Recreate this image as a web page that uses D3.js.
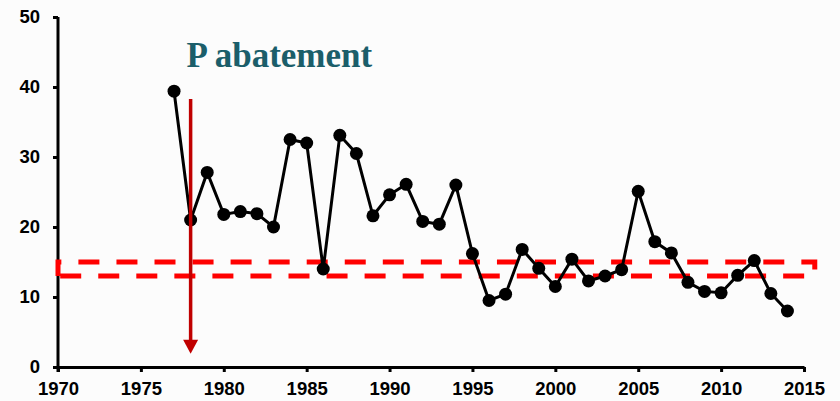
<!DOCTYPE html>
<html>
<head>
<meta charset="utf-8">
<script src="https://cdn.jsdelivr.net/npm/d3@7"></script>
<style>
  body { margin: 0; background: #fcfcfc; }
  svg { display: block; }
  .tick text { font-family: Arial, "Liberation Sans", sans-serif; font-weight: bold; font-size: 18.5px; fill: #000; }
</style>
</head>
<body>
<div id="chart"></div>
<script>
const years = [1977, 1978, 1979, 1980, 1981, 1982, 1983, 1984, 1985, 1986,
    1987, 1988, 1989, 1990, 1991, 1992, 1993, 1994, 1995, 1996,
    1997, 1998, 1999, 2000, 2001, 2002, 2003, 2004, 2005, 2006,
    2007, 2008, 2009, 2010, 2011, 2012, 2013, 2014];
const values = [39.4, 21.0, 27.8, 21.8, 22.2, 21.9, 20.0, 32.5, 32.0, 14.0,
    33.1, 30.5, 21.6, 24.6, 26.1, 20.8, 20.4, 26.0, 16.2, 9.5,
    10.4, 16.8, 14.1, 11.5, 15.4, 12.3, 13.0, 13.9, 25.1, 17.9,
    16.3, 12.1, 10.8, 10.6, 13.1, 15.2, 10.5, 8.0];
const x_ticks = [1970, 1975, 1980, 1985, 1990, 1995, 2000, 2005, 2010, 2015];
const y_ticks = [0, 10, 20, 30, 40, 50];
const band_years = [1970, 2015.65];
const band_values = [13, 15];
const abatement_year = 1978;
const arrow_values = [38.3, 1.9];
const title = 'P abatement';

const chart_width = 840;
const chart_height = 401;

const svg = d3.select('#chart')
    .append('svg')
    .attr('width', chart_width)
    .attr('height', chart_height);

// Scales
const x_scale = d3.scaleLinear().domain([1970, 2015]).range([58, 804]);
const y_scale = d3.scaleLinear().domain([0, 50]).range([367, 17]);

// Axes
const x_axis = svg.append('g')
    .attr('transform', 'translate(0,' + y_scale(0) + ')')
    .call(d3.axisBottom(x_scale).tickValues(x_ticks).tickFormat(d3.format('d'))
        .tickSize(5).tickSizeOuter(0).tickPadding(10));

const y_axis = svg.append('g')
    .attr('transform', 'translate(' + x_scale(1970) + ',0)')
    .call(d3.axisLeft(y_scale).tickValues(y_ticks)
        .tickSize(5).tickSizeOuter(0).tickPadding(13));

svg.selectAll('.domain').attr('stroke', '#000').attr('stroke-width', 3);
svg.selectAll('.tick line').attr('stroke', '#000').attr('stroke-width', 3);
// extend y axis line down to meet x ticks
y_axis.select('.domain').attr('d', 'M0,' + y_scale(50) + 'V' + (y_scale(0) + 5));

// Dashed band
const bx0 = x_scale(band_years[0]), bx1 = x_scale(band_years[1]);
const by0 = y_scale(band_values[0]), by1 = y_scale(band_values[1]);
svg.append('path')
    .attr('d', 'M' + bx0 + ',' + by0 + 'V' + by1 + 'H' + bx1 + 'V' + by0 + 'Z')
    .attr('fill', 'none')
    .attr('stroke', '#ff0000')
    .attr('stroke-width', 5)
    .attr('stroke-dasharray', '21 17.05')
    .attr('stroke-dashoffset', 3.65);

// Series line
const line = d3.line()
    .x((d, i) => x_scale(years[i]))
    .y(d => y_scale(d));

svg.append('path')
    .datum(values)
    .attr('d', line)
    .attr('fill', 'none')
    .attr('stroke', '#000')
    .attr('stroke-width', 3);

svg.selectAll('circle')
    .data(values)
    .enter()
    .append('circle')
    .attr('cx', (d, i) => x_scale(years[i]))
    .attr('cy', d => y_scale(d))
    .attr('r', 6.5)
    .attr('fill', '#000');

// Arrow
const ax = x_scale(abatement_year);
const a_top = y_scale(arrow_values[0]);
const a_tip = y_scale(arrow_values[1]);
svg.append('line')
    .attr('x1', ax).attr('x2', ax)
    .attr('y1', a_top).attr('y2', a_tip - 10)
    .attr('stroke', '#c00000')
    .attr('stroke-width', 3.5);
svg.append('path')
    .attr('d', 'M' + (ax - 7.5) + ',' + (a_tip - 14) + 'L' + (ax + 7.5) + ',' + (a_tip - 14) + 'L' + ax + ',' + a_tip + 'Z')
    .attr('fill', '#c00000');

// Title
svg.append('text')
    .attr('x', 186.5)
    .attr('y', 66.5)
    .attr('font-family', '"Liberation Serif", "DejaVu Serif", serif')
    .attr('font-weight', 'bold')
    .attr('font-size', 35)
    .attr('fill', '#1b5e6a')
    .text(title);
</script>
</body>
</html>
